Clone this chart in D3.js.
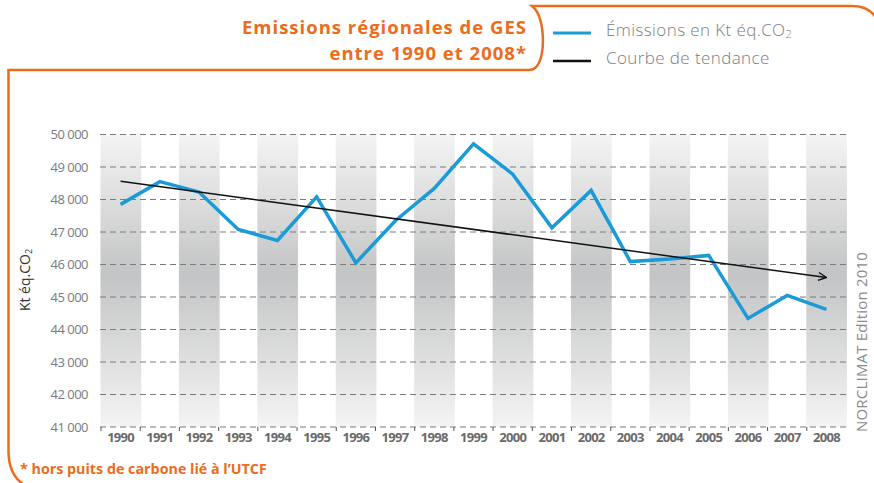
<!doctype html>
<html>
<head>
  <meta charset="utf-8">
  <title>Emissions régionales de GES</title>
  <script src="https://cdn.jsdelivr.net/npm/d3@7"></script>
  <style>
    body { margin: 0; background: #fff; }
    svg { display: block; font-family: "Open Sans", sans-serif; }
  </style>
</head>
<body>
  <div id="chart"></div>

  <script type="text/javascript">
    var width = 874;
    var height = 483;

    // data
    var years = [1990, 1991, 1992, 1993, 1994, 1995, 1996, 1997, 1998, 1999,
                 2000, 2001, 2002, 2003, 2004, 2005, 2006, 2007, 2008];
    var emissions = [47850, 48550, 48230, 47080, 46740, 48080, 46050, 47340, 48340, 49710,
                     48780, 47130, 48280, 46090, 46170, 46280, 44340, 45050, 44620];
    var trendYears = [1990, 2008];
    var trendValues = [48560, 45600];
    var yTicks = [41000, 42000, 43000, 44000, 45000, 46000, 47000, 48000, 49000, 50000];

    var orange = '#ec6c1c';
    var blue = '#1a9bd7';

    var svg = d3.select('#chart')
      .append('svg')
      .attr('width', width)
      .attr('height', height);

    var defs = svg.append('defs');

    var grad = defs.append('linearGradient')
      .attr('id', 'bandGrad')
      .attr('x1', 0).attr('y1', 0).attr('x2', 0).attr('y2', 1);
    grad.append('stop').attr('offset', '0%').attr('stop-color', '#f4f4f4');
    grad.append('stop').attr('offset', '48%').attr('stop-color', '#c3c4c5');
    grad.append('stop').attr('offset', '100%').attr('stop-color', '#f4f4f4');

    defs.append('marker')
      .attr('id', 'arrow')
      .attr('viewBox', '0 0 10 10')
      .attr('refX', 9).attr('refY', 5)
      .attr('markerWidth', 10).attr('markerHeight', 10)
      .attr('markerUnits', 'userSpaceOnUse')
      .attr('orient', 'auto')
      .append('path')
      .attr('d', 'M1,1 L9,5 L1,9')
      .attr('fill', 'none')
      .attr('stroke', '#111')
      .attr('stroke-width', 1.4);

    var x = d3.scaleBand()
      .domain(years)
      .range([101, 846])
      .padding(0);

    var y = d3.scaleLinear()
      .domain([41000, 50000])
      .range([427, 134.5]);

    function cx(yr) { return x(yr) + x.bandwidth() / 2; }

    // shaded bands on even years
    svg.append('g')
      .selectAll('rect')
      .data(years.filter(function(d, i) { return i % 2 === 0; }))
      .enter()
      .append('rect')
      .attr('x', function(d) { return x(d) - 0.5; })
      .attr('y', y(50000))
      .attr('width', x.bandwidth() + 1.5)
      .attr('height', y(41000) - y(50000))
      .attr('fill', 'url(#bandGrad)');

    // dashed grid lines
    svg.append('g')
      .selectAll('line')
      .data(yTicks)
      .enter()
      .append('line')
      .attr('x1', 100)
      .attr('x2', 846)
      .attr('y1', function(d) { return y(d); })
      .attr('y2', function(d) { return y(d); })
      .attr('stroke', '#7b7b7b')
      .attr('stroke-width', 1)
      .attr('stroke-dasharray', '6,4');

    // y axis labels
    var fmt = function(d) { return d3.format(',')(d).replace(',', ' '); };
    var yAxis = svg.append('g')
      .attr('transform', 'translate(92,0)')
      .call(d3.axisLeft(y).tickValues(yTicks).tickFormat(fmt).tickSize(0).tickPadding(4));
    yAxis.select('.domain').remove();
    yAxis.selectAll('text')
      .attr('fill', '#7a7a7a')
      .attr('font-size', '13px')
      .attr('letter-spacing', '-0.5px')
      .attr('font-family', '"Open Sans", sans-serif');

    // x axis ticks at band boundaries
    svg.append('g')
      .selectAll('line')
      .data(years)
      .enter()
      .append('line')
      .attr('x1', function(d) { return x(d); })
      .attr('x2', function(d) { return x(d); })
      .attr('y1', 427)
      .attr('y2', 431)
      .attr('stroke', '#555')
      .attr('stroke-width', 1);

    var xAxis = svg.append('g')
      .attr('transform', 'translate(0,427)')
      .call(d3.axisBottom(x).tickSize(0).tickPadding(6));
    xAxis.select('.domain').remove();
    xAxis.selectAll('text')
      .attr('fill', '#6a6a6a')
      .attr('font-size', '13px')
      .attr('font-weight', 'bold')
      .attr('letter-spacing', '-0.7px')
      .attr('font-family', '"Open Sans", sans-serif');

    // emissions line
    var line = d3.line()
      .x(function(d, i) { return cx(years[i]); })
      .y(function(d) { return y(d); });

    svg.append('path')
      .datum(emissions)
      .attr('d', line)
      .attr('fill', 'none')
      .attr('stroke', blue)
      .attr('stroke-width', 3.5)
      .attr('stroke-linejoin', 'miter');

    // trend line
    var trendLine = d3.line()
      .x(function(d, i) { return cx(trendYears[i]); })
      .y(function(d) { return y(d); });

    svg.append('path')
      .datum(trendValues)
      .attr('d', trendLine)
      .attr('fill', 'none')
      .attr('stroke', '#111')
      .attr('stroke-width', 1.5)
      .attr('marker-end', 'url(#arrow)');

    // y axis title
    var yt = svg.append('text')
      .attr('transform', 'translate(30,280) rotate(-90)')
      .attr('text-anchor', 'middle')
      .attr('fill', '#333')
      .attr('font-size', '14px')
      .text('Kt éq.CO');
    yt.append('tspan').attr('font-size', '9px').attr('dy', 2).text('2');

    // side credit
    svg.append('text')
      .attr('transform', 'translate(867,432) rotate(-90)')
      .attr('text-anchor', 'start')
      .attr('fill', '#8a8a8a')
      .attr('font-size', '15px')
      .attr('letter-spacing', '0.2px')
      .text('NORCLIMAT Edition 2010');

    // orange frame
    svg.append('path')
      .attr('d', 'M880,28 Q875,6 852,6 L532,6 C545,16 546,55 537,66 Q534,70 528,70 L8.5,70 L8.5,452 Q9,478 28,487')
      .attr('fill', 'none')
      .attr('stroke', orange)
      .attr('stroke-width', 2.5);

    // title
    svg.append('text')
      .attr('x', 527).attr('y', 34)
      .attr('text-anchor', 'end')
      .attr('fill', orange)
      .attr('font-size', '18.5px')
      .attr('font-weight', 'bold')
      .attr('letter-spacing', '1px')
      .text('Emissions régionales de GES');
    svg.append('text')
      .attr('x', 527).attr('y', 59.5)
      .attr('text-anchor', 'end')
      .attr('fill', orange)
      .attr('font-size', '18.5px')
      .attr('font-weight', 'bold')
      .attr('letter-spacing', '1px')
      .text('entre 1990 et 2008*');

    // legend
    var legend = [
      { label: 'Émissions en Kt éq.CO', sub: '2', color: blue, w: 3, ly: 33 },
      { label: 'Courbe de tendance', sub: '', color: '#111', w: 2.5, ly: 61 }
    ];
    var lg = svg.append('g');
    lg.selectAll('line')
      .data(legend)
      .enter()
      .append('line')
      .attr('x1', 553).attr('x2', 591)
      .attr('y1', function(d) { return d.ly; })
      .attr('y2', function(d) { return d.ly; })
      .attr('stroke', function(d) { return d.color; })
      .attr('stroke-width', function(d) { return d.w; });
    var lt = lg.selectAll('text')
      .data(legend)
      .enter()
      .append('text')
      .attr('x', 606)
      .attr('y', function(d) { return d.ly + 3; })
      .attr('fill', '#7d7d7d')
      .attr('font-size', '17px')
      .attr('font-weight', 300)
      .attr('letter-spacing', '0.4px')
      .text(function(d) { return d.label; });
    lt.append('tspan')
      .attr('font-size', '11px')
      .attr('dy', 2)
      .text(function(d) { return d.sub; });

    // footnote
    svg.append('text')
      .attr('x', 20).attr('y', 474)
      .attr('fill', orange)
      .attr('font-size', '14.3px')
      .attr('font-weight', 'bold')
      .text('* hors puits de carbone lié à l’UTCF');
  </script>
</body>
</html>
